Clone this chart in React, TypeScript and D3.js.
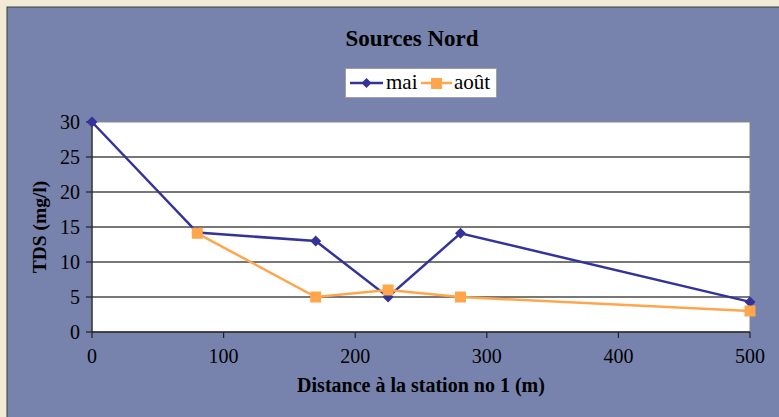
import React from "react";
import * as d3 from "d3";

const distances = [0, 80, 170, 225, 280, 500];
const maiValues = [30, 14.2, 13, 5, 14.1, 4.3];
const aoutDistances = [80, 170, 225, 280, 500];
const aoutValues = [14.1, 5, 6, 5, 3];
const xTicks = [0, 100, 200, 300, 400, 500];
const yTicks = [0, 5, 10, 15, 20, 25, 30];

const W = 779, H = 417;
const left = 92, right = 750, top = 122, bottom = 332;
const font = "'Liberation Serif', 'Times New Roman', serif";
const navy = "#333399";
const orange = "#FFA64D";

export default function App() {
  const x = d3.scaleLinear().domain([0, 500]).range([left, right]);
  const y = d3.scaleLinear().domain([0, 30]).range([bottom, top]);
  const maiPts: [number, number][] = distances.map((d, i) => [x(d), y(maiValues[i])]);
  const aoutPts: [number, number][] = aoutDistances.map((d, i) => [x(d), y(aoutValues[i])]);
  const line = d3.line();
  const diamond = (cx: number, cy: number, r = 5.5) =>
    `M${cx},${cy - r}L${cx + r},${cy}L${cx},${cy + r}L${cx - r},${cy}Z`;
  return (
    <svg width={W} height={H} style={{ position: "absolute", left: 0, top: 0 }}>
      <rect x={0} y={0} width={W} height={H} fill="#F1EBD6" />
      <rect x={7} y={7} width={W} height={H} fill="#7783AD" stroke="#3a3a3a" strokeWidth={1} />
      <text x={412} y={46} textAnchor="middle" fontFamily={font} fontWeight="bold" fontSize={23}>Sources Nord</text>
      {/* legend */}
      <rect x={345.5} y={68.5} width={151} height={29} fill="#fff" stroke="#a0a0a0" strokeWidth={1} />
      <line x1={350} x2={383} y1={83} y2={83} stroke={navy} strokeWidth={2.5} />
      <path d={diamond(366.5, 83, 5)} fill={navy} />
      <text x={386} y={89} fontFamily={font} fontSize={21}>mai</text>
      <line x1={421} x2={452} y1={83} y2={83} stroke={orange} strokeWidth={2.5} />
      <rect x={431} y={78} width={11} height={11} fill={orange} />
      <text x={454} y={89} fontFamily={font} fontSize={21}>août</text>
      {/* plot */}
      <rect x={left} y={top} width={right - left} height={bottom - top} fill="#fff" stroke="#8a8a8a" strokeWidth={1} />
      {yTicks.slice(1).map(t => (
        <line key={"g" + t} x1={left} x2={right} y1={y(t)} y2={y(t)} stroke="#4a4a4a" strokeWidth={t === 30 ? 0 : 1.6} />
      ))}
      <line x1={left} x2={left} y1={top} y2={bottom} stroke="#222" strokeWidth={1.2} />
      <line x1={left} x2={right} y1={bottom} y2={bottom} stroke="#222" strokeWidth={1.5} />
      {yTicks.map(t => (
        <g key={"y" + t}>
          <line x1={left - 6} x2={left} y1={y(t)} y2={y(t)} stroke="#222" strokeWidth={1.2} />
          <text x={left - 12} y={y(t) + 7} textAnchor="end" fontFamily={font} fontSize={20}>{t}</text>
        </g>
      ))}
      {xTicks.map(t => (
        <g key={"x" + t}>
          <line x1={x(t)} x2={x(t)} y1={bottom} y2={bottom + 6} stroke="#222" strokeWidth={1.2} />
          <text x={x(t)} y={bottom + 31} textAnchor="middle" fontFamily={font} fontSize={20}>{t}</text>
        </g>
      ))}
      <text x={421} y={392} textAnchor="middle" fontFamily={font} fontWeight="bold" fontSize={20}>Distance à la station no 1 (m)</text>
      <text transform={`translate(46,227) rotate(-90)`} textAnchor="middle" fontFamily={font} fontWeight="bold" fontSize={19.5}>TDS (mg/l)</text>
      <path d={line(maiPts) || ""} fill="none" stroke={navy} strokeWidth={2.5} />
      {maiPts.map((p, i) => <path key={"m" + i} d={diamond(p[0], p[1])} fill={navy} />)}
      <path d={line(aoutPts) || ""} fill="none" stroke={orange} strokeWidth={2.5} />
      {aoutPts.map((p, i) => <rect key={"a" + i} x={p[0] - 5.5} y={p[1] - 5.5} width={11} height={11} fill={orange} />)}
    </svg>
  );
}
